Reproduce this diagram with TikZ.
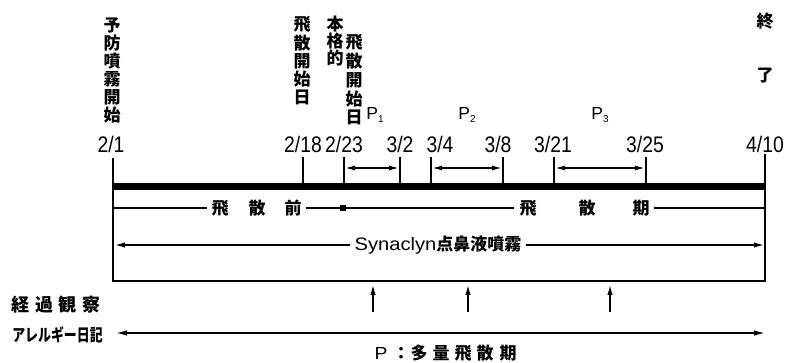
\documentclass[tikz,border=0pt]{standalone}
\usepackage{fontspec}
\setmainfont{Liberation Sans}
\newfontfamily\jp{Noto Sans CJK JP}
\usetikzlibrary{arrows.meta}
\newcommand\condtxt[1]{\scalebox{0.86}[1]{#1}}
\newcommand\psub[1]{P\raisebox{-2.5pt}{\fontsize{10}{10}\selectfont #1}}
\begin{document}
\begin{tikzpicture}[x=1pt,y=-1pt,
  ln/.style={line width=1.4pt},
  jpc/.style={font=\jp\bfseries\fontsize{17}{17}\selectfont, inner sep=0pt},
  jpm/.style={font=\jp\bfseries\fontsize{18}{18}\selectfont, inner sep=0pt},
  datelbl/.style={font=\fontsize{22.5}{22.5}\selectfont, inner sep=0pt},
  plbl/.style={font=\fontsize{17.5}{17.5}\selectfont, inner sep=0pt},
  dbl/.style={ln,{Latex[length=10pt,width=5pt]}-{Latex[length=10pt,width=5pt]}},
  ar/.style={ln,-{Latex[length=10pt,width=5.5pt]}},
]
\useasboundingbox (0,0) rectangle (785,363);

% frame and main bar
\coordinate (L0) at (113,158); \coordinate (L1) at (113,281);
\coordinate (R0) at (765,154); \coordinate (R1) at (765,281);
\coordinate (B0) at (113,186.3); \coordinate (B1) at (765,186.3);
\draw[ln] (L0) -- (L1) -- (R1) -- (R0);
\draw[line width=7.3pt] (B0) -- (B1);

% ticks
\foreach \n/\x in {a/303,b/344,c/400,d/431,e/503,f/554,g/646}{
  \coordinate (t\n) at (\x,157); \coordinate (b\n) at (\x,183);
  \draw[ln] (t\n) -- (b\n);
}

% period double arrows
\coordinate (p1a) at (345,168); \coordinate (p1b) at (399,168);
\coordinate (p2a) at (432,168); \coordinate (p2b) at (502,168);
\coordinate (p3a) at (555,168); \coordinate (p3b) at (645,168);
\draw[dbl] (p1a) -- (p1b);
\draw[dbl] (p2a) -- (p2b);
\draw[dbl] (p3a) -- (p3b);

% dates
\node[datelbl] (d01) at (111,144) {\condtxt{2/1}};
\node[datelbl] (d02) at (303,144) {\condtxt{2/18}};
\node[datelbl] (d03) at (344,144) {\condtxt{2/23}};
\node[datelbl] (d04) at (400,144) {\condtxt{3/2}};
\node[datelbl] (d05) at (440,144) {\condtxt{3/4}};
\node[datelbl] (d06) at (498,144) {\condtxt{3/8}};
\node[datelbl] (d07) at (553,144) {\condtxt{3/21}};
\node[datelbl] (d08) at (645,144) {\condtxt{3/25}};
\node[datelbl] (d09) at (765,144) {\condtxt{4/10}};

% P labels
\node[plbl] (P1) at (375,115) {\psub{1}};
\node[plbl] (P2) at (467,115) {\psub{2}};
\node[plbl] (P3) at (600,115) {\psub{3}};

% vertical labels
\foreach \c [count=\i] in {予,防,噴,霧,開,始}
  \node[jpc] (va\i) at (112,{25.5+17.9*(\i-1)}) {\c};
\foreach \c [count=\i] in {飛,散,開,始,日}
  \node[jpc] (vb\i) at (302,{24.5+18.2*(\i-1)}) {\c};
\foreach \c [count=\i] in {本,格,的}
  \node[jpc] (vc\i) at (335,{24.5+17*(\i-1)}) {\c};
\foreach \c [count=\i] in {飛,散,開,始,日}
  \node[jpc] (vd\i) at (354,{42.5+18.8*(\i-1)}) {\c};
\node[jpc] (end1) at (765,21) {終};
\node[jpc] (end2) at (765,76) {了};

% row: before / during dispersal
\coordinate (r2L) at (113,208); \coordinate (r2R) at (765,208);
\node[jpc] (pre1) at (220,208) {飛};
\node[jpc] (pre2) at (257,208) {散};
\node[jpc] (pre3) at (293,208) {前};
\node[fill, minimum size=6.5pt, inner sep=0pt] (sq) at (343,208) {};
\node[jpc] (dur1) at (528,208) {飛};
\node[jpc] (dur2) at (587,208) {散};
\node[jpc] (dur3) at (641,208) {期};
\draw[ln] (r2L) -- ([xshift=-4pt]pre1.west);
\draw[ln] ([xshift=4pt]pre3.east) -- (sq) -- ([xshift=-5pt]dur1.west);
\draw[ln] ([xshift=4pt]dur3.east) -- (r2R);

% Synaclyn row
\node[inner sep=0pt] (syn) at (438,245)
  {\fontsize{18}{18}\selectfont\scalebox{1.12}[1]{Synaclyn}\jp\bfseries\fontsize{17}{17}\selectfont 点鼻液噴霧};
\coordinate (synL) at (115,245); \coordinate (synR) at (764,245);
\draw[ar] ([xshift=-4pt]syn.west) -- (synL);
\draw[ar] ([xshift=4pt]syn.east) -- (synR);

% observation arrows
\foreach \n/\x in {1/373,2/468,3/610}{
  \coordinate (ub\n) at (\x,312); \coordinate (ut\n) at (\x,285);
  \draw[ar] (ub\n) -- (ut\n);
}
\foreach \c/\x [count=\i] in {経/21,過/44,観/67,察/91}
  \node[jpm] (ob\i) at (\x,305) {\c};

% allergy diary
\node[jpc] (al) at (57.5,335) {\scalebox{0.76}[1]{アレルギー日記}};
\coordinate (alL) at (116,333); \coordinate (alR) at (765,333);
\draw[ln,{Latex[length=11pt,width=5.5pt]}-{Latex[length=11pt,width=5.5pt]}] (alL) -- (alR);

% legend
\node[plbl] (lgP) at (381,353) {\scalebox{1.1}[1]{P}};
\node[jpc] (lgC) at (401,353) {：};
\foreach \c/\x [count=\i] in {多/419,量/441,飛/463,散/485,期/508}
  \node[jpc] (lg\i) at (\x,353) {\c};
\end{tikzpicture}
\end{document}
